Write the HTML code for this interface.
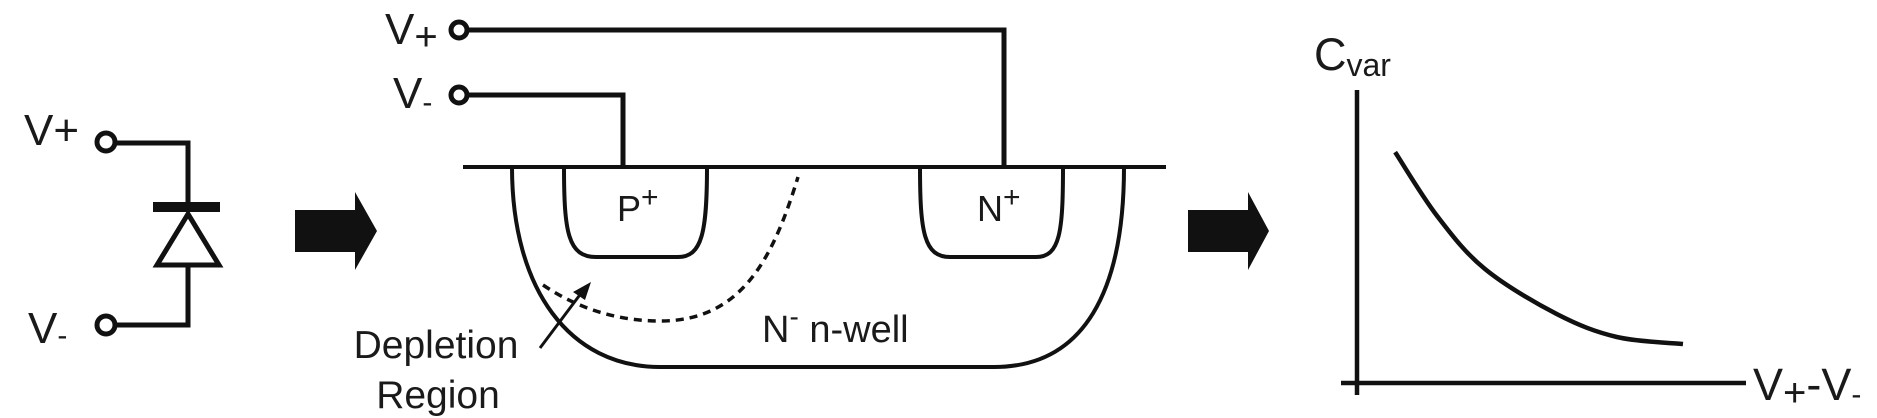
<!DOCTYPE html>
<html><head><meta charset="utf-8"><style>
html,body{margin:0;padding:0;background:#fff;}
svg{display:block;}
text{font-family:"Liberation Sans",Arial,sans-serif;fill:#1a1a1a;}
</style></head><body>
<svg width="1877" height="418" viewBox="0 0 1877 418">
<g stroke="#111" stroke-width="5" fill="none">
  <text x="24" y="145" font-size="44" stroke="none">V+</text>
  <circle cx="106" cy="142" r="9"/>
  <polyline points="115,143 188,143 188,204"/>
  <rect x="153" y="202" width="67" height="10" fill="#111" stroke="none"/>
  <polygon points="188,214 157,265 219,265"/>
  <polyline points="188,265 188,325 115,325"/>
  <circle cx="106" cy="325" r="9"/>
  <text x="28" y="343" font-size="44" stroke="none">V<tspan font-size="30" dy="2">-</tspan></text>
</g>
<polygon points="295,210 355,210 355,192 377,231 355,270 355,252 295,252" fill="#111"/>

<g stroke="#111" stroke-width="4" fill="none">
  <text x="385" y="44" font-size="44" stroke="none">V<tspan font-size="40" dy="6">+</tspan></text>
  <circle cx="459" cy="30" r="8" stroke-width="5"/>
  <polyline points="467,30 1004,30 1004,167" stroke-width="5"/>
  <text x="393" y="108" font-size="44" stroke="none">V<tspan font-size="30" dy="4">-</tspan></text>
  <circle cx="459" cy="95" r="8" stroke-width="5"/>
  <polyline points="467,95 623,95 623,167" stroke-width="5"/>
  <line x1="463" y1="167" x2="1166" y2="167"/>
  <path d="M512,167 C512,290 570,367 660,367 L994,367 C1085,367 1124,290 1124,167"/>
  <path d="M564,167 C564,232 568,257 596,257 L678,257 C702,257 707,232 707,167"/>
  <path d="M920,167 C920,232 924,257 950,257 L1036,257 C1060,257 1063,232 1063,167"/>
  <path d="M543,285 C580,310 620,321 660,321 C740,321 772,262 798,177" stroke-width="3.5" stroke-dasharray="8,6"/>
  <line x1="540" y1="348" x2="582" y2="292" stroke-width="3"/>
  <polygon points="591,282 573,292 585,300" fill="#111" stroke="none"/>
  <text x="617" y="221" font-size="36" stroke="none">P<tspan font-size="30" dy="-14">+</tspan></text>
  <text x="977" y="221" font-size="36" stroke="none">N<tspan font-size="30" dy="-14">+</tspan></text>
  <text x="762" y="342" font-size="38" stroke="none">N<tspan font-size="28" dy="-16">-</tspan><tspan dy="16"> n-well</tspan></text>
  <text x="436" y="358" font-size="39" text-anchor="middle" stroke="none">Depletion</text>
  <text x="438" y="408" font-size="39" text-anchor="middle" stroke="none">Region</text>
</g>
<polygon points="1188,210 1248,210 1248,192 1269,231 1248,270 1248,252 1188,252" fill="#111"/>

<g id="chart">
  <line x1="1357" y1="90" x2="1357" y2="395" stroke="#111" stroke-width="4.5"/>
  <line x1="1341" y1="383" x2="1746" y2="383" stroke="#111" stroke-width="4.5"/>
  <text x="1314" y="70" font-size="45">C<tspan font-size="32" dy="6">var</tspan></text>
  <text x="1753" y="400" font-size="45">V<tspan font-size="40" dy="6">+</tspan><tspan dy="-6">-V</tspan><tspan font-size="30" dy="4">-</tspan></text>
</g>
</svg>
<script>
const voltage = [0.98, 2.06, 3.29, 5.14, 6.68, 8.38];
const capacitance = [7.88, 5.7, 3.89, 2.35, 1.57, 1.33];
function xScale(v){ return 1357 + v * 38.9; }
function yScale(c){ return 383 - c * 29.3; }
(function(){
  const svg = document.getElementById('chart');
  const pts = voltage.map((v,i)=>[xScale(v), yScale(capacitance[i])]);
  let d = 'M' + pts[0][0] + ',' + pts[0][1];
  for (let i=0;i<pts.length-1;i++){
    const p0=pts[Math.max(i-1,0)], p1=pts[i], p2=pts[i+1], p3=pts[Math.min(i+2,pts.length-1)];
    const c1x=p1[0]+(p2[0]-p0[0])/6, c1y=p1[1]+(p2[1]-p0[1])/6;
    const c2x=p2[0]-(p3[0]-p1[0])/6, c2y=p2[1]-(p3[1]-p1[1])/6;
    d += ' C'+c1x+','+c1y+' '+c2x+','+c2y+' '+p2[0]+','+p2[1];
  }
  const path = document.createElementNS('http://www.w3.org/2000/svg','path');
  path.setAttribute('d', d);
  path.setAttribute('fill','none');
  path.setAttribute('stroke','#111');
  path.setAttribute('stroke-width','4.5');
  
  
  svg.appendChild(path);
})();
</script>
</body></html>
